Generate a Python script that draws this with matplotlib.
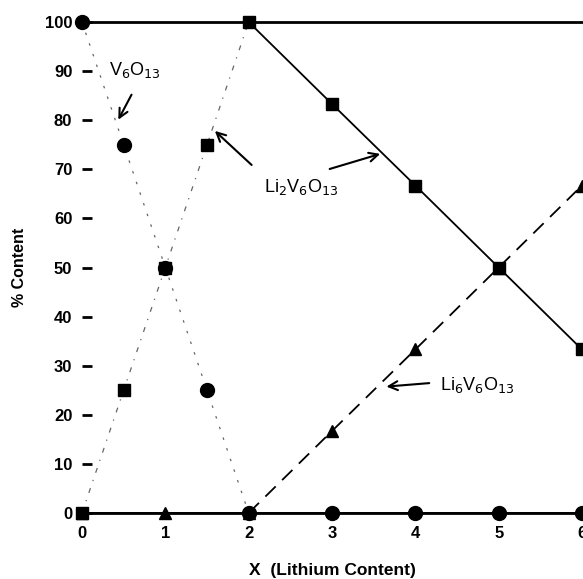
import matplotlib
matplotlib.use("Agg")
import matplotlib.pyplot as plt

# Phase composition versus lithium content
x_v6 = [0, 0.5, 1, 1.5, 2, 3, 4, 5, 6]
v6o13 = [100, 75, 50, 25, 0, 0, 0, 0, 0]

x_li2 = [0, 0.5, 1, 1.5, 2, 3, 4, 5, 6]
li2v6o13 = [0, 25, 50, 75, 100, 83.3, 66.7, 50, 33.3]

x_li6 = [0, 1, 2, 3, 4, 5, 6]
li6v6o13 = [0, 0, 0, 16.7, 33.3, 50, 66.7]

x_ticks = [0, 1, 2, 3, 4, 5, 6]
y_ticks = [0, 10, 20, 30, 40, 50, 60, 70, 80, 90, 100]

plt.rcParams['font.family'] = ['Liberation Sans', 'DejaVu Sans']

W, H = 583, 579
fig = plt.figure(figsize=(W / 100, H / 100), dpi=100)
left, right, top, bottom = 82, 583, 22, 513
ax = fig.add_axes([left / W, 1 - bottom / H, (right - left) / W, (bottom - top) / H])
ax.set_xlim(0, 6.012)
ax.set_ylim(0, 100)

faint = dict(color='0.4', lw=0.9)
# transition region 0 <= x <= 2
ax.plot(x_v6[:5], v6o13[:5], ls=(0, (2, 7)), **faint, zorder=2)
ax.plot(x_li2[:5], li2v6o13[:5], ls=(0, (4, 6, 1, 6)), **faint, zorder=2)
# region 2 <= x <= 6
ax.plot(x_li2[4:], li2v6o13[4:], color='black', lw=1.3, zorder=2)
ax.plot(x_li6[2:], li6v6o13[2:], color='black', lw=1.3, ls=(0, (8, 5)), zorder=2)
ax.plot(x_v6[4:], v6o13[4:], color='black', lw=2, zorder=2)
ax.plot(x_li6[:3], li6v6o13[:3], color='black', lw=2, zorder=2)

ax.plot(x_li6, li6v6o13, ls='none', marker='^', ms=8, color='black', clip_on=False, zorder=3)
ax.plot(x_li2, li2v6o13, ls='none', marker='s', ms=8, color='black', clip_on=False, zorder=4)
ax.plot(x_v6, v6o13, ls='none', marker='o', ms=10, color='black', clip_on=False, zorder=5)

for side in ('left', 'right'):
    ax.spines[side].set_visible(False)
ax.spines['top'].set_linewidth(2)
ax.spines['bottom'].set_linewidth(2)

ax.set_xticks(x_ticks)
ax.set_yticks(y_ticks)
ax.tick_params(axis='x', length=0, pad=9, labelsize=12)
ax.tick_params(axis='y', direction='in', length=7, width=2, pad=7, labelsize=12)
for lab in ax.get_xticklabels() + ax.get_yticklabels():
    lab.set_fontweight('bold')

ax.set_xlabel('X  (Lithium Content)', fontsize=12.5, fontweight='bold', labelpad=16)
ax.set_ylabel('% Content', fontsize=11.5, fontweight='bold', labelpad=13)

arrow = dict(arrowstyle='->', color='black', lw=1.5, mutation_scale=16)
ax.text(0.64, 90.2, 'V$_6$O$_{13}$', fontsize=13, ha='center', va='center')
ax.annotate('', xy=(0.42, 79.6), xytext=(0.61, 85.7), arrowprops=arrow)

ax.text(2.63, 66.4, 'Li$_2$V$_6$O$_{13}$', fontsize=13, ha='center', va='center')
ax.annotate('', xy=(1.57, 78.2), xytext=(2.06, 70.5), arrowprops=arrow)
ax.annotate('', xy=(3.61, 73.3), xytext=(2.94, 69.9), arrowprops=arrow)

ax.text(4.30, 26.1, 'Li$_6$V$_6$O$_{13}$', fontsize=13, ha='left', va='center')
ax.annotate('', xy=(3.62, 25.7), xytext=(4.2, 26.5), arrowprops=arrow)

fig.savefig('out.png', dpi=100)
